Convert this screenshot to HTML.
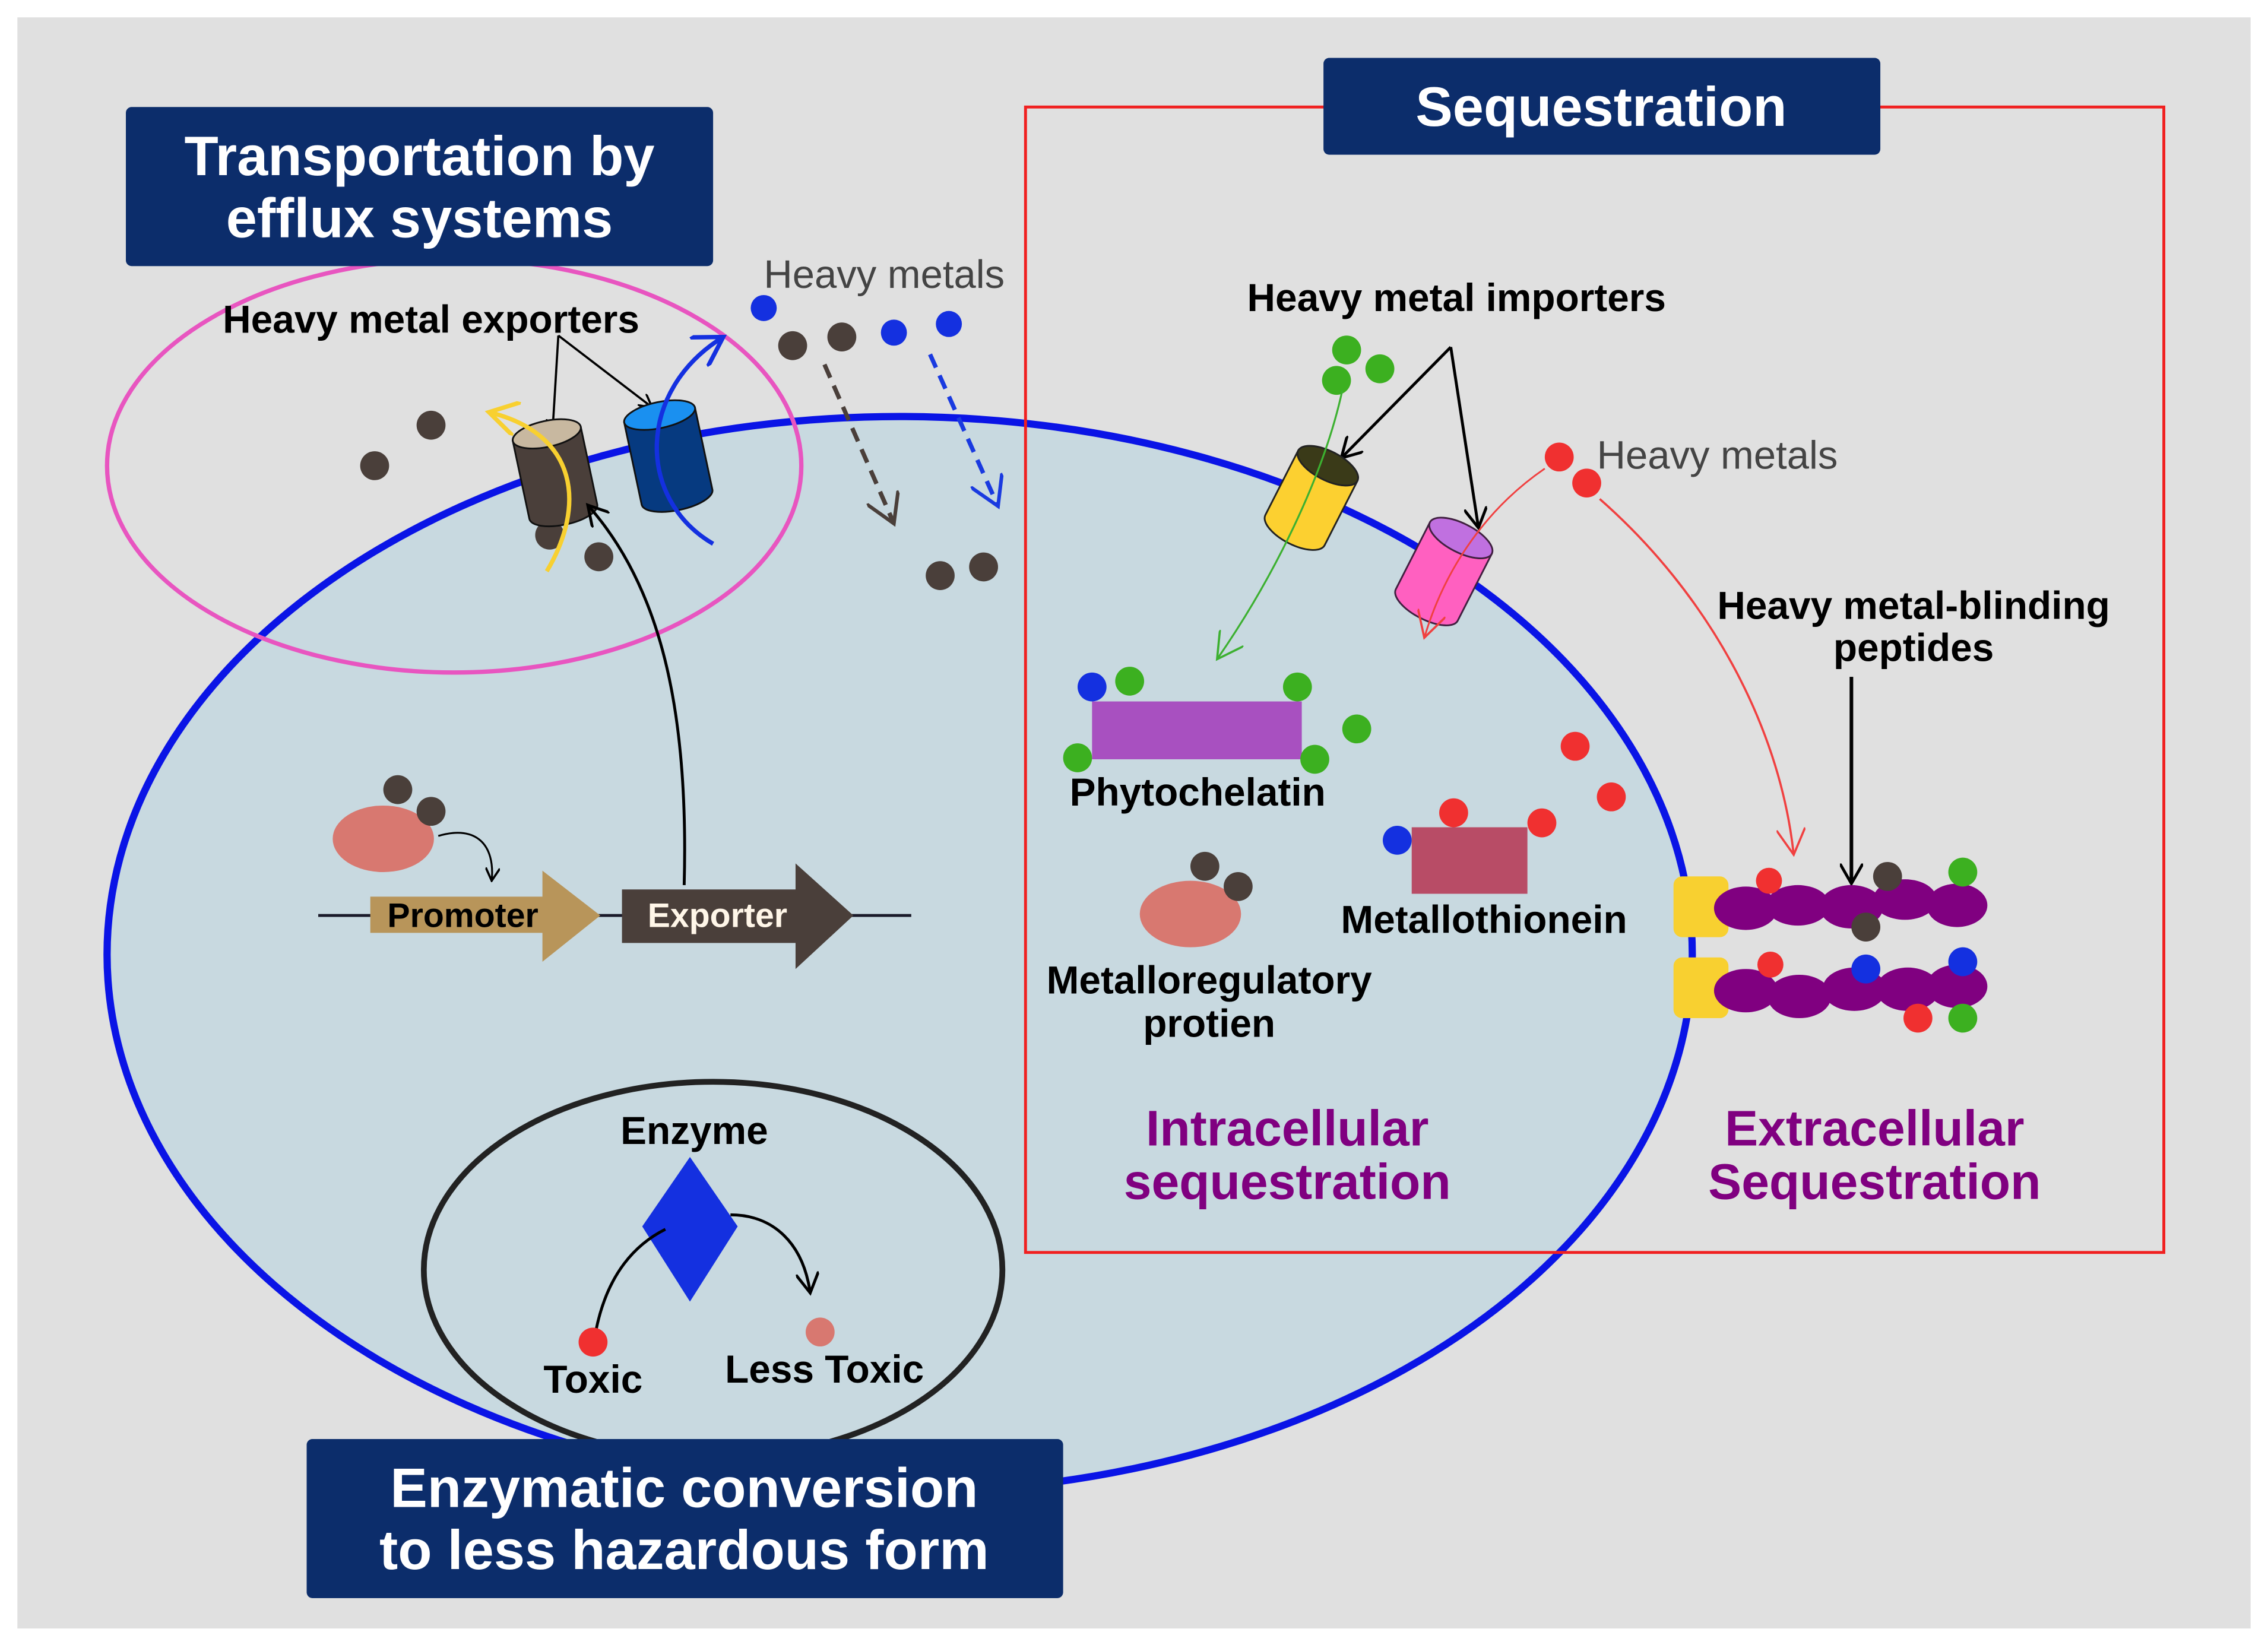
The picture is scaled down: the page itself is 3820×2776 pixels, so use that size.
<!DOCTYPE html>
<html><head><meta charset="utf-8"><style>
html,body{margin:0;padding:0;background:#fff}
svg{display:block}
text{font-family:"Liberation Sans",Arial,sans-serif}
</style></head><body>
<svg width="3820" height="2776" viewBox="0 0 1568 1139.5" xmlns="http://www.w3.org/2000/svg">
<defs>
<marker id="ak" markerWidth="10" markerHeight="10" refX="8" refY="5" orient="auto" markerUnits="userSpaceOnUse"><path d="M0,0 L9,5 L0,10" fill="none" stroke="#000" stroke-width="1.5"/></marker>
<marker id="akb" markerWidth="16" markerHeight="16" refX="13" refY="8" orient="auto" markerUnits="userSpaceOnUse"><path d="M0,0 L14,8 L0,16" fill="none" stroke="#000" stroke-width="2"/></marker>
<marker id="ar" markerWidth="20" markerHeight="20" refX="17" refY="10" orient="auto" markerUnits="userSpaceOnUse"><path d="M0,0 L18,10 L0,20" fill="none" stroke="#f04040" stroke-width="1.5"/></marker>
<marker id="ag" markerWidth="20" markerHeight="20" refX="17" refY="10" orient="auto" markerUnits="userSpaceOnUse"><path d="M0,0 L18,10 L0,20" fill="none" stroke="#3cb030" stroke-width="1.5"/></marker>
<marker id="ay" markerWidth="24" markerHeight="24" refX="20" refY="12" orient="auto" markerUnits="userSpaceOnUse"><path d="M0,0 L20,12 L0,24" fill="none" stroke="#f8d030" stroke-width="3"/></marker>
<marker id="abl" markerWidth="24" markerHeight="24" refX="20" refY="12" orient="auto" markerUnits="userSpaceOnUse"><path d="M0,0 L20,12 L0,24" fill="none" stroke="#1430e0" stroke-width="3"/></marker>
<marker id="ad" markerWidth="24" markerHeight="24" refX="20" refY="12" orient="auto" markerUnits="userSpaceOnUse"><path d="M0,0 L20,12 L0,24" fill="none" stroke="#4a3f3a" stroke-width="2.5"/></marker>
<marker id="adb" markerWidth="24" markerHeight="24" refX="20" refY="12" orient="auto" markerUnits="userSpaceOnUse"><path d="M0,0 L20,12 L0,24" fill="none" stroke="#1a3ae0" stroke-width="2.5"/></marker>
</defs>
<rect x="12" y="12" width="1544" height="1114" fill="#e0e0e0"/>
<ellipse cx="622" cy="660" rx="548" ry="372" fill="#c8d9e0" stroke="#0a14e6" stroke-width="5"/>
<ellipse cx="314" cy="322" rx="240" ry="143" fill="none" stroke="#e855c0" stroke-width="3"/>
<rect x="709" y="74" width="787" height="792" fill="none" stroke="#f02020" stroke-width="2"/>
<ellipse cx="493" cy="878" rx="200" ry="130" fill="none" stroke="#222" stroke-width="4"/>

<rect x="87" y="74" width="406" height="110" rx="4" fill="#0c2d6b"/>
<text x="290" y="121" font-size="38.5" font-weight="bold" fill="#fff" text-anchor="middle">Transportation by</text>
<text x="290" y="164" font-size="38.5" font-weight="bold" fill="#fff" text-anchor="middle">efflux systems</text>
<rect x="915" y="40" width="385" height="67" rx="4" fill="#0c2d6b"/>
<text x="1107" y="87" font-size="38.5" font-weight="bold" fill="#fff" text-anchor="middle">Sequestration</text>
<rect x="212" y="995" width="523" height="110" rx="4" fill="#0c2d6b"/>
<text x="473" y="1042" font-size="38.5" font-weight="bold" fill="#fff" text-anchor="middle">Enzymatic conversion</text>
<text x="473" y="1085" font-size="38.5" font-weight="bold" fill="#fff" text-anchor="middle">to less hazardous form</text>

<text x="298" y="230" font-size="27" font-weight="bold" fill="#000" text-anchor="middle">Heavy metal exporters</text>
<line x1="386" y1="232" x2="382" y2="298" stroke="#000" stroke-width="1.5" marker-end="url(#ak)"/>
<line x1="386" y1="232" x2="450" y2="281" stroke="#000" stroke-width="1.5" marker-end="url(#ak)"/>
<circle cx="259" cy="322" r="10" fill="#4a3f3a"/>
<circle cx="298" cy="294" r="10" fill="#4a3f3a"/>
<circle cx="380" cy="370" r="10" fill="#4a3f3a"/>
<circle cx="414" cy="385" r="10" fill="#4a3f3a"/>
<g transform="translate(378,300) rotate(-12)">
<path d="M-24,0 L-24,55 A24,9 0 0 0 24,55 L24,0 Z" fill="#4a3f3a" stroke="#111" stroke-width="1.2"/>
<ellipse cx="0" cy="0" rx="24" ry="9" fill="#c8b8a0" stroke="#111" stroke-width="1.2"/>
</g>
<g transform="translate(456,287) rotate(-12)">
<path d="M-25,0 L-25,58 A25,9 0 0 0 25,58 L25,0 Z" fill="#063a80" stroke="#111" stroke-width="1.2"/>
<ellipse cx="0" cy="0" rx="25" ry="9" fill="#1a90f0" stroke="#111" stroke-width="1.2"/>
</g>
<path d="M378,395 C405,350 400,300 338,285" fill="none" stroke="#f8d030" stroke-width="3" marker-end="url(#ay)"/>
<path d="M493,376 C440,345 440,270 500,233" fill="none" stroke="#1430e0" stroke-width="3" marker-end="url(#abl)"/>
<path d="M473,612 C476,500 460,410 407,350" fill="none" stroke="#000" stroke-width="2" marker-end="url(#akb)"/>

<text x="528" y="199" font-size="27.5" fill="#444">Heavy metals</text>
<circle cx="528" cy="213" r="9" fill="#1430e0"/>
<circle cx="548" cy="239" r="10" fill="#4a3f3a"/>
<circle cx="582" cy="233" r="10" fill="#4a3f3a"/>
<circle cx="618" cy="230" r="9" fill="#1430e0"/>
<circle cx="656" cy="224" r="9" fill="#1430e0"/>
<line x1="570" y1="252" x2="618" y2="362" stroke="#4a3f3a" stroke-width="3" stroke-dasharray="10,6" marker-end="url(#ad)"/>
<line x1="643" y1="245" x2="690" y2="350" stroke="#1a3ae0" stroke-width="3" stroke-dasharray="10,6" marker-end="url(#adb)"/>
<circle cx="650" cy="398" r="10" fill="#4a3f3a"/>
<circle cx="680" cy="392" r="10" fill="#4a3f3a"/>

<line x1="220" y1="633" x2="630" y2="633" stroke="#1a1a2a" stroke-width="2"/>
<ellipse cx="265" cy="580" rx="35" ry="23" fill="#d87870"/>
<circle cx="275" cy="546" r="10" fill="#4a3f3a"/>
<circle cx="298" cy="561" r="10" fill="#4a3f3a"/>
<path d="M303,578 C330,570 342,585 340,608" fill="none" stroke="#000" stroke-width="1.3" marker-end="url(#ak)"/>
<path d="M256,620 L375,620 L375,602 L415,633 L375,665 L375,645 L256,645 Z" fill="#b8955a"/>
<text x="320" y="641" font-size="23.5" font-weight="bold" fill="#000" text-anchor="middle">Promoter</text>
<path d="M430,615 L550,615 L550,597 L590,633 L550,670 L550,652 L430,652 Z" fill="#4a3f3a"/>
<text x="496" y="641" font-size="23.5" font-weight="bold" fill="#fff6e8" text-anchor="middle">Exporter</text>

<text x="480" y="791" font-size="27" font-weight="bold" fill="#000" text-anchor="middle">Enzyme</text>
<path d="M477,800 L510,848 L477,900 L444,848 Z" fill="#1430e0"/>
<path d="M412,920 C420,880 440,860 460,850" fill="none" stroke="#000" stroke-width="2"/>
<path d="M505,840 C535,840 555,860 560,893" fill="none" stroke="#000" stroke-width="2" marker-end="url(#akb)"/>
<circle cx="410" cy="928" r="10" fill="#f03030"/>
<circle cx="567" cy="921" r="10" fill="#d87870"/>
<text x="410" y="963" font-size="27" font-weight="bold" fill="#000" text-anchor="middle">Toxic</text>
<text x="570" y="956" font-size="27" font-weight="bold" fill="#000" text-anchor="middle">Less Toxic</text>

<text x="1007" y="215" font-size="27" font-weight="bold" fill="#000" text-anchor="middle">Heavy metal importers</text>
<line x1="1003" y1="240" x2="928" y2="316" stroke="#000" stroke-width="2" marker-end="url(#akb)"/>
<line x1="1003" y1="240" x2="1022" y2="364" stroke="#000" stroke-width="2" marker-end="url(#akb)"/>
<circle cx="931" cy="242" r="10" fill="#3cb020"/>
<circle cx="954" cy="255" r="10" fill="#3cb020"/>
<circle cx="924" cy="263" r="10" fill="#3cb020"/>
<g transform="translate(918,322) rotate(27)">
<path d="M-23,0 L-23,50 A23,10 0 0 0 23,50 L23,0 Z" fill="#fcd030" stroke="#222" stroke-width="1.2"/>
<ellipse cx="0" cy="0" rx="23" ry="10" fill="#3a3a18" stroke="#222" stroke-width="1.2"/>
</g>
<g transform="translate(1010,372) rotate(27)">
<path d="M-24,0 L-24,52 A24,10 0 0 0 24,52 L24,0 Z" fill="#ff60c0" stroke="#402040" stroke-width="1.2"/>
<ellipse cx="0" cy="0" rx="24" ry="10" fill="#c070e0" stroke="#402040" stroke-width="1.2"/>
</g>
<path d="M928,270 C915,330 880,400 842,455" fill="none" stroke="#3cb030" stroke-width="1.3" marker-end="url(#ag)"/>
<path d="M1068,324 C1030,350 1000,390 985,440" fill="none" stroke="#f04040" stroke-width="1.2" marker-end="url(#ar)"/>
<circle cx="1078" cy="316" r="10" fill="#f03030"/>
<circle cx="1097" cy="334" r="10" fill="#f03030"/>
<text x="1104" y="324" font-size="27.5" fill="#444">Heavy metals</text>
<path d="M1106,345 C1180,410 1230,500 1240,590" fill="none" stroke="#f04040" stroke-width="1.5" marker-end="url(#ar)"/>

<rect x="755" y="485" width="145" height="40" fill="#a850c0"/>
<circle cx="755" cy="475" r="10" fill="#1430e0"/>
<circle cx="781" cy="471" r="10" fill="#3cb020"/>
<circle cx="897" cy="475" r="10" fill="#3cb020"/>
<circle cx="938" cy="504" r="10" fill="#3cb020"/>
<circle cx="745" cy="524" r="10" fill="#3cb020"/>
<circle cx="909" cy="525" r="10" fill="#3cb020"/>
<text x="828" y="557" font-size="27" font-weight="bold" fill="#000" text-anchor="middle">Phytochelatin</text>

<rect x="976" y="572" width="80" height="46" fill="#b84c66"/>
<circle cx="966" cy="581" r="10" fill="#1430e0"/>
<circle cx="1005" cy="562" r="10" fill="#f03030"/>
<circle cx="1066" cy="569" r="10" fill="#f03030"/>
<circle cx="1089" cy="516" r="10" fill="#f03030"/>
<circle cx="1114" cy="551" r="10" fill="#f03030"/>
<text x="1026" y="645" font-size="27" font-weight="bold" fill="#000" text-anchor="middle">Metallothionein</text>

<ellipse cx="823" cy="632" rx="35" ry="23" fill="#d87870"/>
<circle cx="833" cy="599" r="10" fill="#4a3f3a"/>
<circle cx="856" cy="613" r="10" fill="#4a3f3a"/>
<text x="836" y="687" font-size="27" font-weight="bold" fill="#000" text-anchor="middle">Metalloregulatory</text>
<text x="836" y="717" font-size="27" font-weight="bold" fill="#000" text-anchor="middle">protien</text>

<text x="890" y="792" font-size="34.5" font-weight="bold" fill="#800080" text-anchor="middle">Intracellular</text>
<text x="890" y="829" font-size="34.5" font-weight="bold" fill="#800080" text-anchor="middle">sequestration</text>
<text x="1296" y="792" font-size="34.5" font-weight="bold" fill="#800080" text-anchor="middle">Extracellular</text>
<text x="1296" y="829" font-size="34.5" font-weight="bold" fill="#800080" text-anchor="middle">Sequestration</text>

<text x="1323" y="428" font-size="27" font-weight="bold" fill="#000" text-anchor="middle">Heavy metal-blinding</text>
<text x="1323" y="457" font-size="27" font-weight="bold" fill="#000" text-anchor="middle">peptides</text>
<line x1="1280" y1="468" x2="1280" y2="610" stroke="#000" stroke-width="2.5" marker-end="url(#akb)"/>
<rect x="1157" y="606" width="38" height="42" rx="6" fill="#f8d030"/>
<rect x="1157" y="662" width="38" height="42" rx="6" fill="#f8d030"/>
<g fill="#800080">
<ellipse cx="1207" cy="628" rx="22" ry="15"/><ellipse cx="1243" cy="626" rx="22" ry="14"/><ellipse cx="1280" cy="627" rx="22" ry="15"/><ellipse cx="1317" cy="622" rx="22" ry="14"/><ellipse cx="1353" cy="626" rx="21" ry="15"/>
<ellipse cx="1207" cy="685" rx="22" ry="15"/><ellipse cx="1244" cy="689" rx="22" ry="15"/><ellipse cx="1282" cy="684" rx="22" ry="15"/><ellipse cx="1319" cy="684" rx="22" ry="15"/><ellipse cx="1353" cy="682" rx="21" ry="15"/>
</g>
<circle cx="1223" cy="609" r="9" fill="#f03030"/>
<circle cx="1305" cy="606" r="10" fill="#4a3f3a"/>
<circle cx="1290" cy="641" r="10" fill="#4a3f3a"/>
<circle cx="1357" cy="603" r="10" fill="#3cb020"/>
<circle cx="1224" cy="667" r="9" fill="#f03030"/>
<circle cx="1290" cy="670" r="10" fill="#1430e0"/>
<circle cx="1357" cy="665" r="10" fill="#1430e0"/>
<circle cx="1326" cy="704" r="10" fill="#f03030"/>
<circle cx="1357" cy="704" r="10" fill="#3cb020"/>
</svg>
</body></html>
